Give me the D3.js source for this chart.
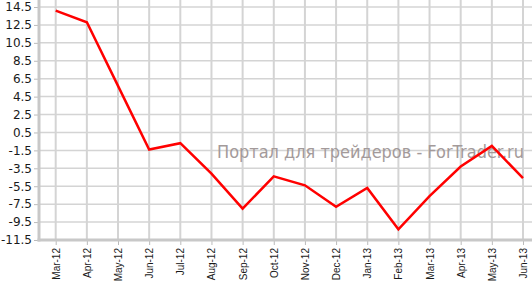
<!DOCTYPE html>
<html>
<head>
<meta charset="utf-8">
<script src="https://cdn.jsdelivr.net/npm/d3@7"></script>
<style>
  body { margin: 0; background: #fff; }
  svg { display: block; }
  .tick text { fill: #1a1a1a; }
</style>
</head>
<body>
<div id="chart"></div>
<script>
const months = ['Mar-12', 'Apr-12', 'May-12', 'Jun-12', 'Jul-12', 'Aug-12', 'Sep-12', 'Oct-12',
                'Nov-12', 'Dec-12', 'Jan-13', 'Feb-13', 'Mar-13', 'Apr-13', 'May-13', 'Jun-13'];
const values = [14.1, 12.8, 5.7, -1.4, -0.7, -4.1, -8.0, -4.4,
                -5.4, -7.8, -5.7, -10.3, -6.6, -3.3, -1.0, -4.6];
const yTicks = [14.5, 12.5, 10.5, 8.5, 6.5, 4.5, 2.5, 0.5, -1.5, -3.5, -5.5, -7.5, -9.5, -11.5];
const watermark = 'Портал для трейдеров - ForTrader.ru';

const width = 532;
const height = 281;
const plotLeft = 39;
const plotBottom = 240;
const plotTop = 7;

const svg = d3.select('#chart')
              .append('svg')
              .attr('width', width)
              .attr('height', height);

const x = d3.scalePoint()
            .domain(months)
            .range([55.7, 523]);

const y = d3.scaleLinear()
            .domain([-11.5, 14.5])
            .range([plotBottom, plotTop]);

// grid
svg.append('g')
   .selectAll('line')
   .data(yTicks)
   .enter()
   .append('line')
   .attr('x1', plotLeft)
   .attr('x2', width)
   .attr('y1', d => y(d))
   .attr('y2', d => y(d))
   .attr('stroke', '#d4d4d4')
   .attr('stroke-width', 1.5);

svg.append('g')
   .selectAll('line')
   .data(months)
   .enter()
   .append('line')
   .attr('x1', d => x(d))
   .attr('x2', d => x(d))
   .attr('y1', 0)
   .attr('y2', plotBottom)
   .attr('stroke', '#d4d4d4')
   .attr('stroke-width', 2);

// watermark
svg.append('text')
   .attr('x', 217)
   .attr('y', 158)
   .attr('font-family', '"DejaVu Sans", Verdana, sans-serif')
   .attr('font-size', 18)
   .attr('textLength', 307)
   .attr('lengthAdjust', 'spacingAndGlyphs')
   .attr('fill', '#a39a9a')
   .text(watermark);

// axes
const yAxis = d3.axisLeft(y)
                .tickValues(yTicks)
                .tickSize(5)
                .tickPadding(2);
const gy = svg.append('g')
              .attr('transform', 'translate(' + plotLeft + ',0)')
              .call(yAxis);
gy.select('.domain').remove();
gy.selectAll('.tick line').attr('stroke', '#bbb');
gy.selectAll('.tick text')
  .attr('font-family', '"DejaVu Sans", Verdana, sans-serif')
  .attr('font-size', 12)
  .text(d => d.toFixed(1));

const xAxis = d3.axisBottom(x).tickSize(5).tickPadding(3);
const gx = svg.append('g')
              .attr('transform', 'translate(0,' + plotBottom + ')')
              .call(xAxis);
gx.select('.domain').remove();
gx.selectAll('.tick line').attr('stroke', '#bbb');
gx.selectAll('.tick text')
  .attr('font-family', '"Liberation Sans", Arial, sans-serif')
  .attr('font-size', 10)
  .attr('transform', 'rotate(-90)')
  .attr('text-anchor', 'end')
  .attr('x', -8)
  .attr('y', 0)
  .attr('dy', '0.35em');

svg.append('line')
   .attr('x1', plotLeft).attr('x2', plotLeft)
   .attr('y1', 0).attr('y2', plotBottom + 1.5)
   .attr('stroke', '#c8c8c8').attr('stroke-width', 3);
svg.append('line')
   .attr('x1', plotLeft - 1.5).attr('x2', width)
   .attr('y1', plotBottom).attr('y2', plotBottom)
   .attr('stroke', '#c8c8c8').attr('stroke-width', 3);

// series
const line = d3.line()
               .x((d, i) => x(months[i]))
               .y(d => y(d));

svg.append('path')
   .datum(values)
   .attr('d', line)
   .attr('fill', 'none')
   .attr('stroke', '#ff0000')
   .attr('stroke-width', 2.5);
</script>
</body>
</html>
